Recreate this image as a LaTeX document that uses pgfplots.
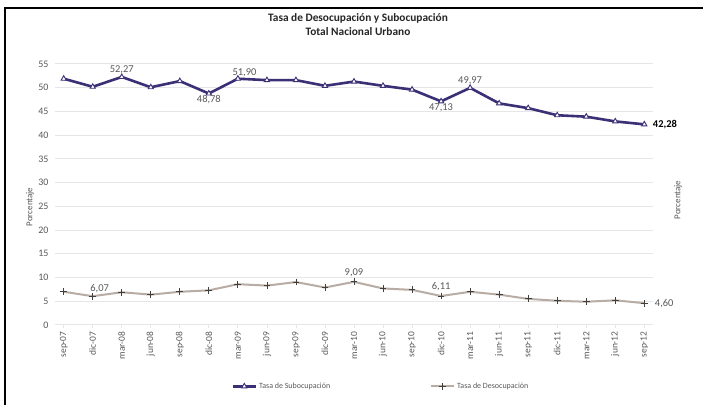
\documentclass[border=0pt]{standalone}
\usepackage{pgfplots}
\pgfplotsset{compat=1.18}
\usepackage{fontspec}
\setmainfont{Carlito}
\definecolor{suboc}{RGB}{58,48,118}
\definecolor{desoc}{RGB}{184,172,164}
\definecolor{gridc}{RGB}{230,230,230}
\definecolor{txt}{RGB}{89,89,89}

\pgfplotstableread{
x  sub    des
0  51.90  7.00
1  50.20  6.07
2  52.27  6.90
3  50.10  6.40
4  51.40  7.00
5  48.78  7.30
6  51.90  8.60
7  51.60  8.30
8  51.60  9.05
9  50.40  7.90
10 51.30  9.09
11 50.40  7.70
12 49.60  7.40
13 47.13  6.11
14 49.97  7.00
15 46.70  6.40
16 45.70  5.50
17 44.20  5.10
18 43.90  4.90
19 42.90  5.20
20 42.28  4.60
}\datos

\begin{document}
\begin{tikzpicture}
\path[use as bounding box] (0,0) rectangle (703bp,405bp);
\fill[white] (0,0) rectangle (703bp,405bp);
\draw[black, line width=2.2bp] (5bp,0) -- (5bp,397bp) -- (703bp,397bp);

\begin{axis}[
    at={(55bp,80bp)}, anchor=south west,
    scale only axis, width=598bp, height=261bp,
    xmin=-0.3, xmax=20.3, ymin=0, ymax=55,
    ytick={0,5,...,55},
    xtick={0,...,20},
    xticklabels={sep-07,dic-07,mar-08,jun-08,sep-08,dic-08,mar-09,jun-09,sep-09,dic-09,mar-10,jun-10,sep-10,dic-10,mar-11,jun-11,sep-11,dic-11,mar-12,jun-12,sep-12},
    x tick label style={rotate=90, anchor=east, font=\fontsize{9.5}{10}\selectfont, text=txt},
    y tick label style={font=\fontsize{10}{11}\selectfont, text=txt},
    /pgf/number format/assume math mode=true,
    axis x line*=bottom, axis y line*=left,
    x axis line style={draw=gridc, line width=1bp, -},
    y axis line style={draw=none},
    xtick style={draw=gridc, line width=0.8bp},
    ytick style={draw=none},
    tick align=outside, major tick length=3bp,
    ymajorgrids, grid style={draw=gridc, line width=1bp},
    legend style={at={(0.545,-0.235)}, anchor=center, draw=none, fill=none,
        font=\fontsize{8}{9}\selectfont, text=txt,
        legend columns=2, /tikz/every even column/.append style={column sep=98bp}},
    legend cell align=left,
    legend image code/.code={
        \draw[mark repeat=2, mark phase=2, #1] plot coordinates {(0bp,0bp) (11.5bp,0bp) (23bp,0bp)};},
    clip=false,
]
\addplot[suboc, line width=2.6bp, mark=triangle*, mark size=3bp,
    mark options={fill=white, draw=suboc, line width=0.9bp}]
    table[x=x, y=sub] {\datos};
\addlegendentry{Tasa de Subocupación}
\addplot[desoc, line width=2bp, mark=+, mark size=3.4bp,
    mark options={draw=black!75, line width=0.8bp}]
    table[x=x, y=des] {\datos};
\addlegendentry{Tasa de Desocupación}

\begin{scope}[every node/.style={font=\fontsize{10.5}{11}\selectfont, text=txt, inner sep=1.5bp}]
\node[above, yshift=1bp] at (axis cs:2,52.27) {52,27};
\node[below, yshift=0bp] at (axis cs:5,48.78) {48,78};
\node[above right, xshift=-7bp] at (axis cs:6,51.90) {51,90};
\node[below, yshift=-1bp] at (axis cs:13,47.13) {47,13};
\node[above, yshift=1bp] at (axis cs:14,49.97) {49,97};
\node[right, text=black, xshift=7bp] at (axis cs:20,42.28) {\textbf{42,28}};
\node[above right, xshift=-4bp, yshift=2bp] at (axis cs:1,6.07) {6,07};
\node[above, yshift=3bp] at (axis cs:10,9.09) {9,09};
\node[above, yshift=3bp] at (axis cs:13,6.11) {6,11};
\node[right, xshift=9bp] at (axis cs:20,4.60) {4,60};
\end{scope}
\end{axis}

\node[font=\bfseries\fontsize{11.4}{14}\selectfont, align=center, text=black!85] at (358bp,380bp)
    {Tasa de Desocupación y Subocupación\\Total Nacional Urbano};
\node[rotate=90, font=\fontsize{9}{10}\selectfont, text=txt] at (30bp,198bp) {Porcentaje};
\node[rotate=90, font=\fontsize{9}{10}\selectfont, text=txt] at (678bp,205bp) {Porcentaje};
\end{tikzpicture}
\end{document}
